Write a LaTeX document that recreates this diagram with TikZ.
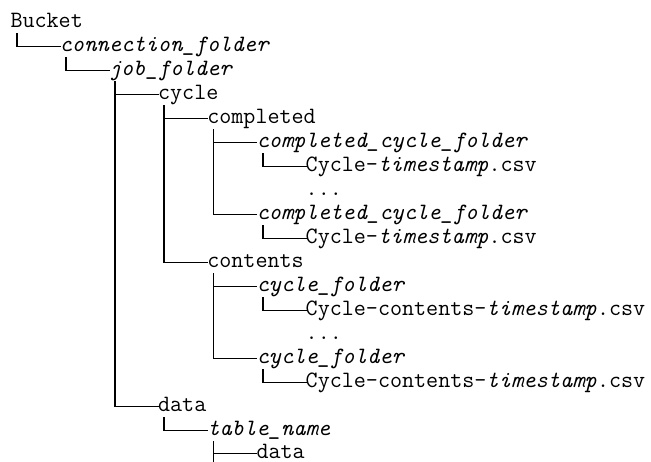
\documentclass[tikz,border=0pt]{standalone}
\begin{document}
\begin{tikzpicture}[x=1pt,y=1pt,
  lbl/.style={anchor=base west,inner sep=0pt,outer sep=0pt,font=\fontsize{23.4}{24}\selectfont\ttfamily},
  tree/.style={line width=1.9pt,line cap=rect},
  pstart/.style={xshift=6.15pt,yshift=-6pt},
  cend/.style={yshift=5pt}]
\useasboundingbox (0,0) rectangle (651,-461);
\node[lbl] (n0)  at (10.5,-27.5)  {Bucket};
\node[lbl] (n1)  at (59.7,-51.5)  {\textit{connection\_folder}};
\node[lbl] (n2)  at (108.9,-75.5) {\textit{job\_folder}};
\node[lbl] (n3)  at (158.1,-99.5) {cycle};
\node[lbl] (n4)  at (207.3,-123.5) {completed};
\node[lbl] (n5)  at (256.5,-147.5) {\textit{completed\_cycle\_folder}};
\node[lbl] (n6)  at (305.7,-171.5) {Cycle-\textit{timestamp}.csv};
\node[lbl] (n7)  at (305.7,-195.5) {...};
\node[lbl] (n8)  at (256.5,-219.5) {\textit{completed\_cycle\_folder}};
\node[lbl] (n9)  at (305.7,-243.5) {Cycle-\textit{timestamp}.csv};
\node[lbl] (n10) at (207.3,-267.5) {contents};
\node[lbl] (n11) at (256.5,-291.5) {\textit{cycle\_folder}};
\node[lbl] (n12) at (305.7,-315.5) {Cycle-contents-\textit{timestamp}.csv};
\node[lbl] (n13) at (305.7,-339.5) {...};
\node[lbl] (n14) at (256.5,-363.5) {\textit{cycle\_folder}};
\node[lbl] (n15) at (305.7,-387.5) {Cycle-contents-\textit{timestamp}.csv};
\node[lbl] (n16) at (158.1,-411.5) {data};
\node[lbl] (n17) at (207.3,-435.5) {\textit{table\_name}};
\node[lbl] (n18) at (256.5,-458.5) {data};
\coordinate (tail) at (213.45,-461);
\foreach \p/\c in {n0/n1,n1/n2,n2/n3,n2/n16,n3/n4,n3/n10,n4/n5,n4/n8,n5/n6,n8/n9,n10/n11,n10/n14,n11/n12,n14/n15,n16/n17,n17/n18}
  \draw[tree] ([pstart]\p.base west) |- ([cend]\c.base west);
\draw[tree] ([pstart]n17.base west) -- (tail);
\end{tikzpicture}
\end{document}
